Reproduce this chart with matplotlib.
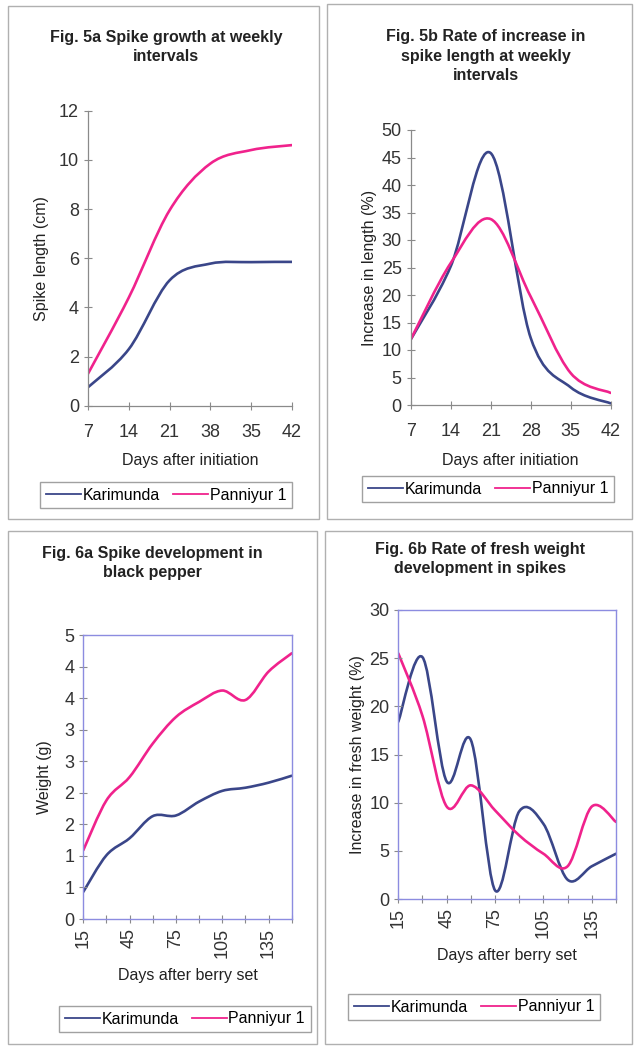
import numpy as np
import matplotlib
matplotlib.use("Agg")
import matplotlib.pyplot as plt
from matplotlib.path import Path
from matplotlib.patches import PathPatch, Rectangle
from matplotlib.lines import Line2D

plt.rcParams['font.family'] = ['Liberation Sans', 'DejaVu Sans']

# Fig 5a - spike length (cm)
days_5 = ["7", "14", "21", "38", "35", "42"]
len_kari = [0.75, 2.3, 5.1, 5.78, 5.84, 5.85]
len_pann = [1.3, 4.4, 7.95, 9.85, 10.4, 10.6]

# Fig 5b - increase in length (%)
days_5b = ["7", "14", "21", "28", "35", "42"]
inc_kari = [11.9, 25.2, 45.8, 12.2, 3.2, 0.3]
inc_pann = [11.9, 25.8, 33.8, 19.7, 5.8, 2.2]

# Fig 6a - weight (g)
days_6 = ["15", "30", "45", "60", "75", "90", "105", "120", "135", "150"]
wt_kari = [0.43, 1.01, 1.28, 1.63, 1.64, 1.86, 2.03, 2.08, 2.16, 2.27]
wt_pann = [1.09, 1.88, 2.25, 2.78, 3.2, 3.44, 3.62, 3.47, 3.92, 4.21]

# Fig 6b - increase in fresh weight (%)
fw_kari = [18.4, 25.1, 12.2, 16.5, 0.9, 9.1, 7.8, 2.0, 3.4, 4.7]
fw_pann = [25.5, 19.0, 9.6, 11.8, 9.2, 6.6, 4.7, 3.4, 9.6, 8.0]

BLUE = "#3a4689"
PINK = "#f0228c"
GRAY = "#8a8a8a"
FRAME = "#8c8ce0"
TXT = "#222222"
LAB = 11.5   # axis label size
TIT = 11.5   # title size


def smooth(ax, ys, color):
    # excel-like smoothed line: catmull-rom as cubic bezier
    xs = np.arange(len(ys), dtype=float)
    ys = np.asarray(ys, dtype=float)
    pts = np.column_stack([xs, ys])
    ext = np.vstack([pts[0], pts, pts[-1]])
    verts = [pts[0]]
    codes = [Path.MOVETO]
    for i in range(len(pts) - 1):
        p0, p1, p2, p3 = ext[i], ext[i + 1], ext[i + 2], ext[i + 3]
        verts += [p1 + (p2 - p0) / 6, p2 - (p3 - p1) / 6, p2]
        codes += [Path.CURVE4] * 3
    ax.add_patch(PathPatch(Path(verts, codes), fill=False, edgecolor=color,
                           lw=1.9, capstyle='round', joinstyle='round'))


W, H = 635, 1047
fig = plt.figure(figsize=(6.35, 10.47), dpi=100)


def px_axes(x0, x1, ytop, ybot):
    return fig.add_axes([x0 / W, (H - ybot) / H, (x1 - x0) / W, (ybot - ytop) / H])


def panel(x0, y0, x1, y1):
    fig.add_artist(Rectangle((x0 / W, (H - y1) / H), (x1 - x0) / W, (y1 - y0) / H,
                             transform=fig.transFigure, fill=False,
                             edgecolor="#b0b0b0", lw=1.0))


def legend(cx, cy):
    handles = [Line2D([], [], color=BLUE, lw=1.3), Line2D([], [], color=PINK, lw=1.3)]
    fig.legend(handles, ["Karimunda", "Panniyur 1"], loc='center',
               bbox_to_anchor=(cx / W, (H - cy) / H), ncol=2, frameon=True,
               fancybox=False, edgecolor=GRAY, fontsize=11.5, handlelength=2.2,
               handletextpad=0.1, columnspacing=0.8, borderpad=0.35)


def open_axes(ax):
    for s in ['top', 'right']:
        ax.spines[s].set_visible(False)
    for s in ['left', 'bottom']:
        ax.spines[s].set_color(GRAY)
        ax.spines[s].set_linewidth(0.9)
    ax.tick_params(direction='inout', length=6, width=0.8, color=GRAY,
                   labelsize=13, labelcolor="#333333")


def box_axes(ax):
    for s in ax.spines.values():
        s.set_color(FRAME)
        s.set_linewidth(1.0)
    ax.tick_params(direction='inout', length=6, width=0.8, color=GRAY,
                   labelsize=13, labelcolor="#333333")


panel(8, 6, 319, 519)
panel(327, 4, 632, 519)
panel(8, 531, 317, 1044)
panel(325, 531, 632, 1044)

# ---- Fig 5a
ax = px_axes(88, 292, 110.7, 405.7)
open_axes(ax)
smooth(ax, len_kari, BLUE)
smooth(ax, len_pann, PINK)
ax.set_xlim(0, 5)
ax.set_ylim(0, 12)
ax.set_xticks(range(6))
ax.set_xticklabels(days_5)
ax.set_yticks(range(0, 13, 2))
ax.tick_params(axis='x', pad=10)
ax.set_xlabel("Days after initiation", fontsize=LAB, labelpad=9, color=TXT)
ax.set_ylabel("Spike length (cm)", fontsize=LAB, labelpad=7, color=TXT)
fig.text(166 / W, (H - 47) / H, "Fig. 5a Spike growth at weekly\nintervals",
         ha='center', va='center', fontsize=TIT, fontweight='bold',
         linespacing=1.35, color=TXT)
legend(166, 495)

# ---- Fig 5b
ax = px_axes(410.7, 610.7, 130, 405)
open_axes(ax)
smooth(ax, inc_kari, BLUE)
smooth(ax, inc_pann, PINK)
ax.set_xlim(0, 5)
ax.set_ylim(0, 50)
ax.set_xticks(range(6))
ax.set_xticklabels(days_5b)
ax.set_yticks(range(0, 51, 5))
ax.tick_params(axis='x', pad=10)
ax.set_xlabel("Days after initiation", fontsize=LAB, labelpad=9, color=TXT)
ax.set_ylabel("Increase in length (%)", fontsize=LAB, labelpad=3, color=TXT)
fig.text(486 / W, (H - 56) / H, "Fig. 5b Rate of increase in\nspike length at weekly\nintervals",
         ha='center', va='center', fontsize=TIT, fontweight='bold',
         linespacing=1.35, color=TXT)
legend(488, 489)

# ---- Fig 6a
ax = px_axes(83.3, 291.7, 635, 919)
box_axes(ax)
smooth(ax, wt_kari, BLUE)
smooth(ax, wt_pann, PINK)
ax.set_xlim(0, 9)
ax.set_ylim(0, 4.5)
ax.set_xticks(range(10))
ax.set_xticklabels([d if i % 2 == 0 else "" for i, d in enumerate(days_6)], rotation=90)
yt = np.arange(0, 4.51, 0.5)
ax.set_yticks(yt)
ax.set_yticklabels([str(int(np.floor(v + 0.5))) for v in yt])
ax.set_xlabel("Days after berry set", fontsize=LAB, labelpad=7, color=TXT)
ax.set_ylabel("Weight (g)", fontsize=LAB, labelpad=9, color=TXT)
fig.text(152 / W, (H - 563) / H, "Fig. 6a Spike development in\nblack pepper",
         ha='center', va='center', fontsize=TIT, fontweight='bold',
         linespacing=1.35, color=TXT)
legend(185, 1019)

# ---- Fig 6b
ax = px_axes(398.3, 616, 610, 899)
box_axes(ax)
smooth(ax, fw_kari, BLUE)
smooth(ax, fw_pann, PINK)
ax.set_xlim(0, 9)
ax.set_ylim(0, 30)
ax.set_xticks(range(10))
ax.set_xticklabels([d if i % 2 == 0 else "" for i, d in enumerate(days_6)], rotation=90)
ax.set_yticks(range(0, 31, 5))
ax.set_xlabel("Days after berry set", fontsize=LAB, labelpad=7, color=TXT)
ax.set_ylabel("Increase in fresh weight (%)", fontsize=LAB, labelpad=3, color=TXT)
fig.text(480 / W, (H - 559) / H, "Fig. 6b Rate of fresh weight\ndevelopment in spikes",
         ha='center', va='center', fontsize=TIT, fontweight='bold',
         linespacing=1.35, color=TXT)
legend(474, 1007)

fig.savefig("out.png", dpi=100, facecolor="white")
